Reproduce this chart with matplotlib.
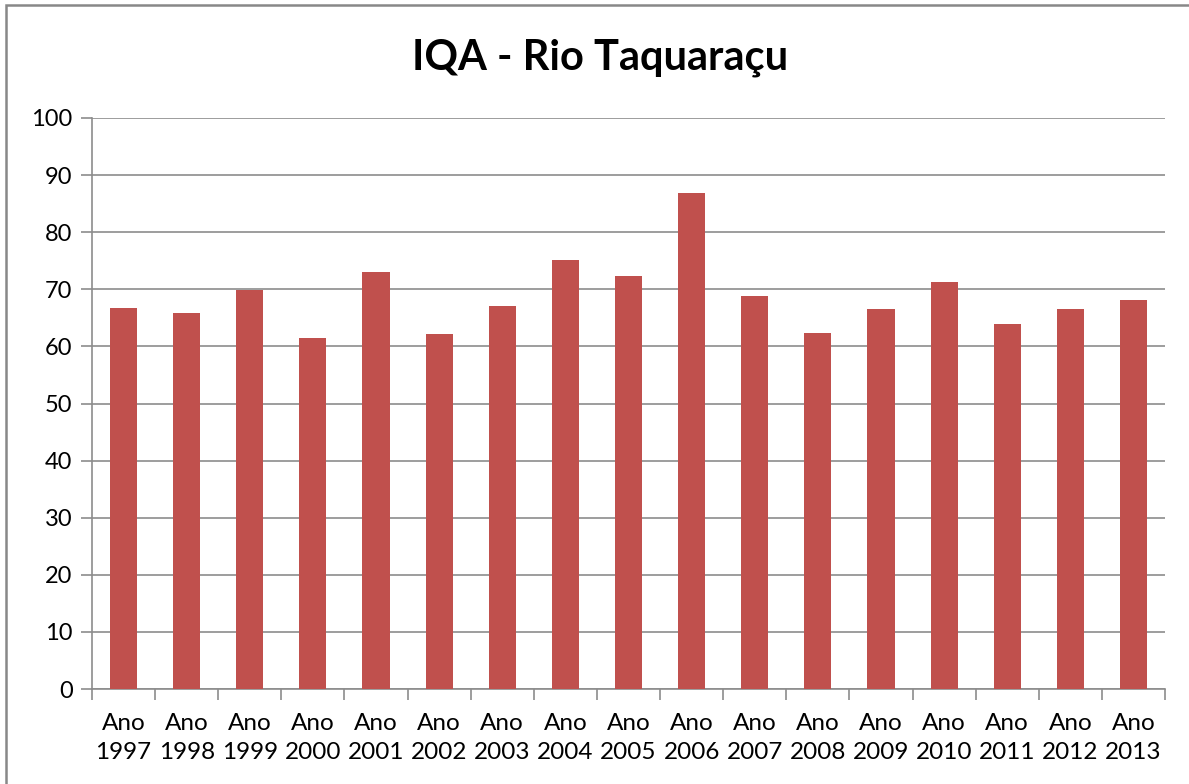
import numpy as np
import matplotlib.pyplot as plt
from matplotlib.patches import Rectangle

# Data
years = [1997, 1998, 1999, 2000, 2001, 2002, 2003, 2004, 2005,
         2006, 2007, 2008, 2009, 2010, 2011, 2012, 2013]
iqa = [66.8, 65.9, 69.8, 61.4, 73.1, 62.1, 67.1, 75.1, 72.4,
       86.8, 68.8, 62.3, 66.5, 71.3, 63.9, 66.5, 68.1]
labels = ["Ano\n%d" % y for y in years]
yticks = list(range(0, 101, 10))

plt.rcParams['font.family'] = ['Lato', 'DejaVu Sans']

fig = plt.figure(figsize=(11.89, 7.84), dpi=100)
ax = fig.add_axes([92 / 1189, 95 / 784, 1073 / 1189, 571 / 784])

x = np.arange(len(years))
ax.bar(x, iqa, width=0.43, color='#C0504D', zorder=3)

ax.set_xlim(-0.5, len(years) - 0.5)
ax.set_ylim(0, 100)
ax.set_yticks(yticks)
ax.set_yticklabels([str(t) for t in yticks], fontsize=17)
ax.set_xticks(x)
ax.set_xticklabels(labels, fontsize=17.5, linespacing=1.5)
ax.set_xticks(np.arange(-0.5, len(years), 1), minor=True)

ax.grid(axis='y', color='#8c8c8c', linewidth=1.2, zorder=0)
ax.tick_params(axis='x', which='major', length=0, pad=17)
ax.tick_params(axis='x', which='minor', length=8, color='#8c8c8c', width=1.2)
ax.tick_params(axis='y', length=8, color='#8c8c8c', width=1.2, pad=6)

for s in ['top', 'right']:
    ax.spines[s].set_visible(False)
for s in ['left', 'bottom']:
    ax.spines[s].set_color('#8c8c8c')
    ax.spines[s].set_linewidth(1.2)

fig.text(0.505, 1 - 58 / 784, "IQA - Rio Taquaraçu", ha='center', va='center',
         fontsize=30, fontweight='bold')

# chart frame
fig.patches.append(Rectangle((6 / 1189, -0.1), 1.2, 1 - 5 / 784 + 0.1,
                             transform=fig.transFigure, fill=False,
                             edgecolor='#888888', linewidth=1.8))

fig.savefig('out.png', dpi=100)
